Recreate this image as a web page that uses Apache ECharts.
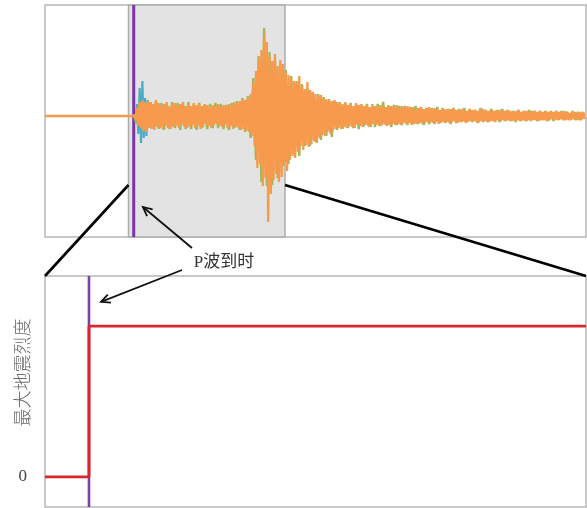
<!DOCTYPE html>
<html>
<head>
<meta charset="utf-8">
<script src="https://cdn.jsdelivr.net/npm/echarts@6/dist/echarts.min.js"></script>
<style>
  html, body { margin: 0; padding: 0; background: #fff; }
  #chart { width: 587px; height: 508px; }
</style>
</head>
<body>
<div id="chart"></div>
<script>
// ---- Upper panel: three-component accelerogram (time in s, amplitude in gal) ----
const traceStart = 16.5;      // first sample after the P arrival
const orangeStep = 0.25;
const greenStep = 0.5;
const blueStep = 0.25;
const pArrivalTop = 16.4;
const windowStart = 15.43;    // highlighted window shown enlarged below
const windowEnd = 44.36;

const orangeValues = [
  2, -4, 8, -10, 14, -12, 16, -15, 13, -16,
  15, -12, 14, -13, 12, -14, 16, -11, 13, -12,
  11, -13, 12, -10, 14, -12, 10, -13, 12, -11,
  13, -10, 11, -12, 12, -9, 14, -11, 10, -12,
  12, -11, 10, -9, 13, -12, 11, -10, 12, -13,
  10, -11, 12, -8, 11, -10, 9, -12, 11, -9,
  10, -8, 12, -10, 9, -11, 11, -9, 10, -12,
  12, -10, 11, -13, 14, -11, 13, -12, 15, -14,
  17, -13, 16, -15, 18, -16, 22, -20, 34, -30,
  45, -52, 58, -48, 66, -70, 81, -62, 74, -106,
  60, -78, 55, -64, 62, -58, 50, -66, 56, -61,
  52, -47, 44, -55, 41, -44, 38, -40, 35, -42,
  33, -36, 40, -30, 30, -34, 27, -29, 34, -31,
  26, -28, 24, -25, 22, -27, 20, -22, 21, -19,
  18, -20, 17, -16, 16, -18, 15, -14, 16, -13,
  14, -12, 13, -13, 12, -11, 14, -12, 11, -10,
  12, -11, 10, -12, 13, -9, 11, -10, 12, -11,
  10, -9, 11, -10, 9, -11, 12, -8, 10, -9,
  9, -10, 11, -9, 10, -8, 9, -10, 11, -9,
  10, -8, 9, -9, 11, -8, 8, -9, 10, -7,
  9, -8, 10, -7, 8, -9, 9, -8, 7, -8,
  8, -7, 9, -8, 7, -7, 8, -6, 9, -7,
  7, -7, 8, -6, 7, -8, 6, -7, 8, -6,
  7, -6, 6, -7, 7, -6, 8, -5, 6, -7,
  6, -6, 7, -5, 6, -7, 5, -6, 7, -5,
  6, -5, 6, -6, 5, -6, 6, -5, 7, -5,
  5, -6, 5, -5, 6, -5, 5, -6, 5, -4,
  6, -5, 5, -4, 5, -5, 6, -4, 5, -5,
  4, -5, 5, -4, 6, -5, 4, -4, 5, -5,
  5, -4, 4, -5, 5, -4, 5, -4, 4, -5,
  5, -4, 4, -4, 5, -5, 4, -4, 5, -3,
  4, -4, 5, -4, 4, -3, 4, -4, 5, -4,
  4, -4, 3, -4, 4, -3, 4, -4, 3, -4,
  4, -3, 4, -3
];

const greenValues = [
  2, -8, 13, -14, 14, -12, 13, -12, 15, -13,
  13, -14, 12, -13, 14, -12, 13, -14, 12, -13,
  14, -13, 12, -14, 13, -12, 11, -13, 12, -12,
  13, -12, 12, -13, 11, -14, 13, -12, 15, -14,
  18, -16, 20, -22, 38, -44, 60, -66, 88, -70,
  64, -69, 58, -62, 52, -50, 46, -48, 40, -38,
  35, -40, 32, -30, 28, -30, 24, -26, 22, -24,
  19, -20, 17, -21, 15, -14, 14, -13, 13, -12,
  13, -12, 12, -13, 11, -10, 12, -11, 10, -11,
  12, -10, 14, -9, 10, -11, 11, -9, 10, -9,
  10, -9, 9, -8, 10, -8, 9, -9, 8, -8,
  8, -8, 9, -7, 8, -7, 7, -8, 8, -7,
  7, -6, 8, -6, 7, -6, 6, -7, 8, -6,
  6, -6, 7, -5, 6, -6, 7, -5, 6, -5,
  5, -6, 6, -5, 5, -5, 6, -4, 5, -5,
  5, -4, 5, -5, 4, -5, 5, -4, 5, -4,
  4, -4, 5, -4, 4, -4, 4
];

const blueValues = [
  2, -6, 12, -18, 28, -27, 35, -22, 18, -20,
  16, -12, 14, -13, 12, -10, 11, -9
];

// ---- Lower panel: estimated maximum intensity ----
const pArrivalBottom = 8.13;
const intensityTimes = [0, 8.13, 100];
const intensityValues = [0, 6, 6];
const intensityTicks = [0];

// Quiet record before the first arrival
const preEventTimes = [0, 16.4];
const preEventValues = [0, 0];

function sampled(values, start, step) {
  return values.map((v, i) => [start + i * step, v]);
}

const chart = echarts.init(document.getElementById('chart'), null, { renderer: 'canvas' });

const off = { show: false };
const option = {
  animation: false,
  backgroundColor: '#fff',
  grid: [
    { left: 45, top: 5, width: 541, height: 232, outerBoundsMode: 'none', containLabel: false, show: true, borderColor: '#b8b8b8', borderWidth: 1.5, backgroundColor: 'transparent' },
    { left: 45, top: 276, width: 541, height: 231, outerBoundsMode: 'none', containLabel: false, show: true, borderColor: '#b8b8b8', borderWidth: 1.5, backgroundColor: 'transparent' }
  ],
  xAxis: [
    { type: 'value', gridIndex: 0, min: 0, max: 100, axisLine: off, axisTick: off, axisLabel: off, splitLine: off },
    { type: 'value', gridIndex: 1, min: 0, max: 100, axisLine: off, axisTick: off, axisLabel: off, splitLine: off }
  ],
  yAxis: [
    { type: 'value', gridIndex: 0, min: -121, max: 111, axisLine: off, axisTick: off, axisLabel: off, splitLine: off },
    {
      type: 'value', gridIndex: 1, min: -1.2, max: 8,
      name: '最大地震烈度', nameLocation: 'middle', nameGap: 14, nameMoveOverlap: false,
      nameTextStyle: { fontFamily: 'Noto Sans CJK SC', fontSize: 18, color: '#6a6a6a', fontWeight: 300, padding: [0, 0, 0, 38] },
      axisLine: off, axisTick: off, splitLine: off,
      axisLabel: { customValues: intensityTicks, margin: 18, fontFamily: 'Liberation Serif', fontSize: 17, color: '#444' }
    }
  ],
  series: [
    {
      name: 'window', type: 'line', xAxisIndex: 0, yAxisIndex: 0, data: [], z: 1,
      markArea: {
        silent: true,
        itemStyle: { color: '#e3e3e3', borderColor: '#acacac', borderWidth: 1.5 },
        data: [[{ xAxis: windowStart }, { xAxis: windowEnd }]]
      }
    },
    {
      name: 'P-top', type: 'line', xAxisIndex: 0, yAxisIndex: 0, z: 2,
      data: [[pArrivalTop, -121], [pArrivalTop, 111]],
      showSymbol: false, lineStyle: { color: '#7a35a3', width: 3 }
    },
    {
      name: 'blue', type: 'line', xAxisIndex: 0, yAxisIndex: 0, z: 3,
      data: sampled(blueValues, traceStart, blueStep),
      showSymbol: false, lineStyle: { color: '#4bacc6', width: 2.2 }
    },
    {
      name: 'green', type: 'line', xAxisIndex: 0, yAxisIndex: 0, z: 3,
      data: sampled(greenValues, traceStart, greenStep),
      showSymbol: false, lineStyle: { color: '#9bbb59', width: 2.4 }
    },
    {
      name: 'orange', type: 'line', xAxisIndex: 0, yAxisIndex: 0, z: 4,
      data: preEventTimes.map((t, i) => [t, preEventValues[i]])
        .concat(sampled(orangeValues, traceStart, orangeStep)),
      showSymbol: false, lineStyle: { color: '#f79a4e', width: 2.3 }
    },
    {
      name: 'P-bottom', type: 'line', xAxisIndex: 1, yAxisIndex: 1, z: 2,
      data: [[pArrivalBottom, -1.2], [pArrivalBottom, 8]],
      showSymbol: false, lineStyle: { color: '#7d3fa6', width: 2.6 }
    },
    {
      name: 'intensity', type: 'line', xAxisIndex: 1, yAxisIndex: 1, z: 3, step: 'end',
      data: intensityTimes.map((t, i) => [t, intensityValues[i]]),
      showSymbol: false, lineStyle: { color: '#d8262b', width: 2.8 }
    }
  ]
};
chart.setOption(option);

// ---- Annotation: zoom connectors and "P波到时" arrows ----
function px(grid, pt) { return chart.convertToPixel({ gridIndex: grid }, pt); }

function arrow(from, to) {
  const ang = Math.atan2(to[1] - from[1], to[0] - from[0]);
  const len = 10, spread = 0.45;
  const a = [to[0] - len * Math.cos(ang - spread), to[1] - len * Math.sin(ang - spread)];
  const b = [to[0] - len * Math.cos(ang + spread), to[1] - len * Math.sin(ang + spread)];
  const st = { stroke: '#111', lineWidth: 1.8, fill: null };
  return [
    { type: 'polyline', z: 100, shape: { points: [from, to] }, style: st },
    { type: 'polyline', z: 100, shape: { points: [a, to, b] }, style: st }
  ];
}

const conn = { stroke: '#000', lineWidth: 2.6, fill: null };
const leftTop = px(0, [windowStart, -69]);
const rightTop = px(0, [windowEnd, -69]);
const leftBottom = px(1, [0, 8]);
const rightBottom = px(1, [100, 8]);

const graphics = [
  { type: 'polyline', z: 100, shape: { points: [leftTop, leftBottom] }, style: conn },
  { type: 'polyline', z: 100, shape: { points: [rightTop, rightBottom] }, style: conn },
  {
    type: 'text', z: 100, x: 224, y: 263,
    style: { text: 'P波到时', fontFamily: 'Liberation Serif, Noto Sans CJK SC', fontSize: 17, fill: '#333', align: 'center', verticalAlign: 'middle' }
  }
].concat(
  arrow([192, 248], px(0, [18.1, -91])),
  arrow([182, 270], px(1, [10.35, 6.97]))
);
chart.setOption({ graphic: graphics });
</script>
</body>
</html>
